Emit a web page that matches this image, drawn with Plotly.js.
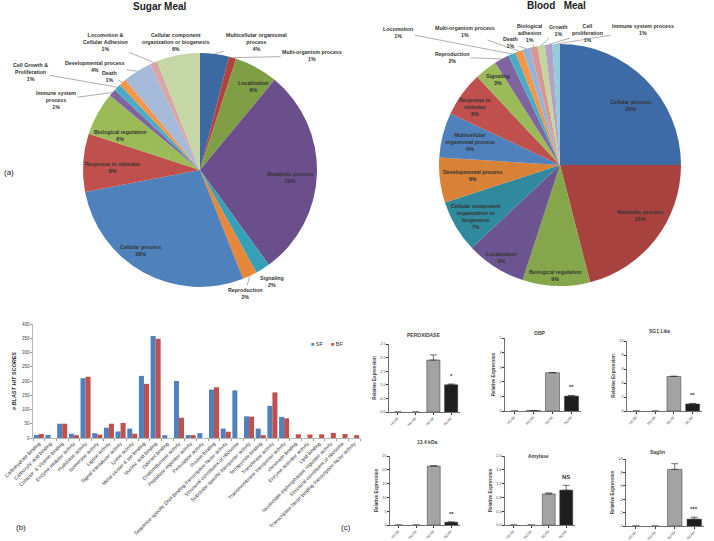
<!DOCTYPE html>
<html><head><meta charset="utf-8">
<script src="https://cdn.plot.ly/plotly-3.0.1.min.js"></script>
<style>html,body{margin:0;padding:0;background:#fff}#chart{width:714px;height:541px}</style>
</head><body><div id="chart"></div>
<script>
// ---------- DATA ----------
const sugarLabels = ["Multicellular organismal process","Multi-organism process","Localization","Metabolic process","Signaling","Reproduction","Cellular process","Response to stimulus","Biological regulation","Immune system process","Cell Growth & Proliferation","Death","Developmental process","Locomotion & Cellular Adhesion","Cellular component organization or biogenesis"];
const sugarValues = [4,1,6,29,2,2,28,8,6,1,1,1,4,1,6];
const sugarWrapped = ["Multicellular organismal<br>process","Multi-organism process","Localization","Metabolic process","Signaling","Reproduction","Cellular process","Response to stimulus","Biological regulation","Immune system<br>process","Cell Growth &<br>Proliferation","Death","Developmental process","Locomotion &<br>Cellular Adhesion","Cellular component<br>organization or biogenesis"];

const bloodLabels = ["Cellular process","Metabolic process","Biological regulation","Localization","Cellular component organization or biogenesis","Developmental process","Multicellular organismal process","Response to stimulus","Signaling","Reproduction","Locomotion","Multi-organism process","Death","Biological adhesion","Growth","Cell proliferation","Immune system process"];
const bloodValues = [25,21,9,8,7,6,6,6,3,2,1,1,1,1,1,1,1];
const bloodWrapped = ["Cellular process","Metabolic process","Biological regulation","Localization","Cellular component<br>organization or<br>biogenesis","Developmental process","Multicellular<br>organismal process","Response to<br>stimulus","Signaling","Reproduction","Locomotion","Multi-organism process","Death","Biological<br>adhesion","Growth","Cell<br>proliferation","Immune system process"];

const mfCategories = ["Carbohydrate binding","Carboxylic acid binding","Cofactor  & Vitamin binding","Enzyme inhibitor activity","Hydrolase activity","Isomerase activity","Ligase activity","Signal transducer activity","Lyase activity","Metal cluster & Ion binding","Nucleic acid binding","Odorant binding","Oxidoreductase activity","Peptidase regulator activity","Peroxidase activity","Protein binding","Sequence-specific DNA binding transcription factor activity","Structural constituent of ribosome","Substrate-specific transporter activity","Tetrapyrrole binding","Transferase activity","Transmembrane transporter activity","chromatin binding","Enzyme activator activity","Lipid binding","Nucleoside-triphosphatase regulator activity","Structural constituent of ribosome","Transcription factor binding transcription factor activity"];
const sfValues = [11,11,50,15,210,17,36,23,33,218,358,10,200,10,17,170,33,167,76,33,113,74,0,0,0,0,0,0];
const bfValues = [14,0,50,10,215,12,50,53,15,190,348,0,71,10,0,178,22,0,75,10,160,69,13,12,13,18,14,10];

const qCategories = ["HC/SF","MG/SF","SG/SF","SG/BF"];
const geneNames = ["PEROXIDASE","OBP","SG1 Like","13.4 kDa","Amylase","Saglin"];
const geneMeans = [[0,0,1.91,1.0],[0,0.03,2.62,1.02],[0,0,4.93,1.0],[0,0,21.35,1.0],[0,0,0.90,1.01],[0,0,8.45,1.02]];
const geneErrors = [[0,0,0.19,0.03],[0,0,0.02,0.04],[0,0,0.05,0.08],[0,0,0.12,0.10],[0,0,0.03,0.14],[0,0,0.85,0.30]];
const geneSignif = ["*","**","**","**","NS","***"];

// ---------- STYLE / LAYOUT ----------
const W = 714, H = 541;
const PX = v => v / W, PY = v => 1 - v / H;

const sugarColors = ["#3C69A2","#B5413E","#7F9E45","#6A4F8C","#35A0B8","#E6873A","#4F81BD","#C0504D","#9BBB59","#8064A2","#4BACC6","#F79646","#A6BAD9","#D9A6A5","#C6D7A6"];
const bloodColors = ["#3E6BA6","#A8423F","#86A64B","#6C5491","#31899E","#D98136","#4F81BD","#C0504D","#9BBB59","#8064A2","#4BACC6","#F79646","#95B3D7","#D99694","#C3D69B","#B3A2C7","#93CDDD"];

const sugarGeom = {cx:200, cy:170, r:117};
const bloodGeom = {cx:560, cy:165, r:121};
// label text centres [x, y, withLeader]
const sugarLabelPos = [[256,42,1],[312,56,1],[253,86,0],[290,178,0],[272,281,0],[245,293,1],[140,250,0],[112,168,0],[120,135,0],[56,100,1],[31,72,1],[109,76,1],[95,66,1],[105,42,1],[175,42,0]];
const bloodLabelPos = [[630,105,0],[640,216,0],[555,275,0],[502,257,0],[476,217,0],[473,175,0],[470,142,0],[475,107,0],[498,80,0],[452,57,1],[398,32,1],[465,32,1],[510,43,1],[530,33,1],[558,30,1],[587,33,1],[643,30,1]];

const labelFont = {family:"Liberation Sans, Arial, sans-serif", size:5.3, color:"#333"};
const annotations = [];
function txt(x, y, text, font, extra){
  annotations.push(Object.assign({xref:"paper", yref:"paper", x:PX(x), y:PY(y), xanchor:"center", yanchor:"middle",
    text, showarrow:false, font}, extra||{}));
}

function pieTrace(labels, values, colors, g){
  return {type:"pie", labels, values, sort:false, direction:"clockwise", rotation:0,
    textinfo:"none", marker:{colors, line:{width:0}}, showlegend:false, hoverinfo:"label+value",
    domain:{x:[PX(g.cx-g.r), PX(g.cx+g.r)], y:[PY(g.cy+g.r), PY(g.cy-g.r)]}};
}
function pieLabels(wrapped, values, pos, g){
  const total = values.reduce((a,b)=>a+b,0);
  let cum = 0;
  values.forEach((v,i)=>{
    const mid = (cum + v/2)/total*2*Math.PI; cum += v;
    const tx = g.cx + g.r*Math.sin(mid), ty = g.cy - g.r*Math.cos(mid);
    const text = "<b>"+wrapped[i]+"<br>"+v+"%</b>";
    const [lx, ly, lead] = pos[i];
    if (lead){
      annotations.push({xref:"paper", yref:"paper", x:PX(tx), y:PY(ty), ax:lx-tx, ay:ly-ty,
        text, showarrow:true, arrowhead:0, arrowwidth:0.6, arrowcolor:"#777", standoff:0,
        font:labelFont, align:"center"});
    } else {
      txt(lx, ly, text, labelFont, {align:"center"});
    }
  });
}

const data = [];
data.push(pieTrace(sugarLabels, sugarValues, sugarColors, sugarGeom));
data.push(pieTrace(bloodLabels, bloodValues, bloodColors, bloodGeom));
pieLabels(sugarWrapped, sugarValues, sugarLabelPos, sugarGeom);
pieLabels(bloodWrapped, bloodValues, bloodLabelPos, bloodGeom);

// titles
txt(160, 6, "<b>Sugar Meal</b>", {family:"Liberation Sans, Arial",size:10,color:"#222"});
txt(556, 5, "<b>Blood\u00a0\u00a0 Meal</b>", {family:"Liberation Sans, Arial",size:10,color:"#222"});
// panel letters
[["(a)",9,172],["(b)",21,527],["(c)",346,527]].forEach(([t,x,y])=>txt(x,y,t,{family:"Liberation Sans, Arial",size:8,color:"#222"}));

// ---------- (b) grouped bar ----------
const idx = mfCategories.map((_,i)=>i);
data.push({type:"bar", name:"SF", x:idx, y:sfValues, marker:{color:"#4F81BD"}, xaxis:"x", yaxis:"y", showlegend:false});
data.push({type:"bar", name:"BF", x:idx, y:bfValues, marker:{color:"#C0504D"}, xaxis:"x", yaxis:"y", showlegend:false});
// legend
txt(309, 344, '<span style="color:#4F81BD">■</span> SF', {family:"Liberation Sans, Arial",size:5.5,color:"#333"}, {xanchor:"left"});
txt(329, 344, '<span style="color:#C0504D">■</span> BF', {family:"Liberation Sans, Arial",size:5.5,color:"#333"}, {xanchor:"left"});

const layout = {
  width:W, height:H, margin:{l:0,r:0,t:0,b:0}, paper_bgcolor:"#fff", plot_bgcolor:"rgba(0,0,0,0)",
  barmode:"group", bargap:0.14, bargroupgap:0, showlegend:false,
  font:{family:"Liberation Sans, Arial, sans-serif", color:"#333"},
  xaxis:{domain:[PX(33),PX(360)], range:[-0.5,27.5], tickmode:"array", tickvals:idx, ticktext:mfCategories,
    tickangle:-45, tickfont:{size:5, color:"#333"}, showline:true, linecolor:"#999", linewidth:0.7,
    ticks:"", showgrid:false, zeroline:false, automargin:false, fixedrange:true,
    minor:{tick0:-0.5, dtick:1, ticks:"outside", ticklen:2, tickcolor:"#999", showgrid:false}},
  yaxis:{domain:[PY(438),PY(324)], range:[0,400], dtick:50, tickfont:{size:4.5,color:"#444"},
    showline:true, linecolor:"#999", linewidth:0.7, ticks:"outside", ticklen:2, tickcolor:"#999",
    showgrid:false, zeroline:false, automargin:false,
    title:{text:"<b><i># BLAST HIT SCORES</i></b>", font:{size:5.5,color:"#333"}, standoff:4}},
  annotations
};

// ---------- (c) qPCR panels ----------
const cPanels = [
  {x:[389,460], y:[344,412], range:[0,2.5], dtick:0.5, fmt:".1f", title:[423,335]},
  {x:[505,581], y:[338,411], range:[0,5], dtick:1, fmt:"d", title:[540,333]},
  {x:[627,702], y:[341,411], range:[0,10], dtick:2, fmt:"d", title:[660,331]},
  {x:[390,460], y:[456,525], range:[0,25], dtick:5, fmt:"d", title:[427,442]},
  {x:[505,575], y:[456,525], range:[0,2], dtick:0.4, fmt:".1f", title:[538,456]},
  {x:[626,704], y:[459,526], range:[0,10], dtick:2, fmt:"d", title:[657,452]}
];
cPanels.forEach((p,k)=>{
  const n = k+2;
  const means = geneMeans[k], errs = geneErrors[k];
  data.push({type:"bar", x:qCategories, y:means, width:0.74, xaxis:"x"+n, yaxis:"y"+n, showlegend:false,
    marker:{color:["#a3a3a3","#a3a3a3","#a3a3a3","#1e1e1e"], line:{color:"#333", width:means.map(v=>v>0?0.5:0)}},
    error_y:{type:"data", array:errs.map(e=>e>0?e:null), arrayminus:errs.map(()=>0), symmetric:false,
      color:"#333", thickness:0.7, width:3.5}});
  layout["xaxis"+n] = {domain:[PX(p.x[0]),PX(p.x[1])], anchor:"y"+n, type:"category", range:[-0.5,3.5],
    tickangle:-45, tickfont:{size:3.5,color:"#444"}, showline:true, linecolor:"#333", linewidth:0.7,
    ticks:"outside", ticklen:2, tickcolor:"#333", showgrid:false, zeroline:false, automargin:false};
  layout["yaxis"+n] = {domain:[PY(p.y[1]),PY(p.y[0])], anchor:"x"+n, range:p.range, dtick:p.dtick, tickformat:p.fmt,
    tickfont:{size:3.8,color:"#444"}, showline:true, linecolor:"#333", linewidth:0.7, ticks:"outside", ticklen:2,
    tickcolor:"#333", showgrid:false, zeroline:false, automargin:false,
    title:{text:"<b>Relative Expression</b>", font:{size:4.6,color:"#444"}, standoff:3}};
  txt(p.title[0], p.title[1], "<b>"+geneNames[k]+"</b>", {size:5,color:"#444"});
  const top = means[3] + errs[3];
  annotations.push({xref:"x"+n, yref:"y"+n, x:qCategories[3], y: top + (p.range[1]-p.range[0])*0.05, xanchor:"center", yanchor:"bottom",
    text:"<b>"+geneSignif[k]+"</b>", showarrow:false, font:{size:6,color:"#333"}});
});

Plotly.newPlot("chart", data, layout, {staticPlot:true});
</script></body></html>
